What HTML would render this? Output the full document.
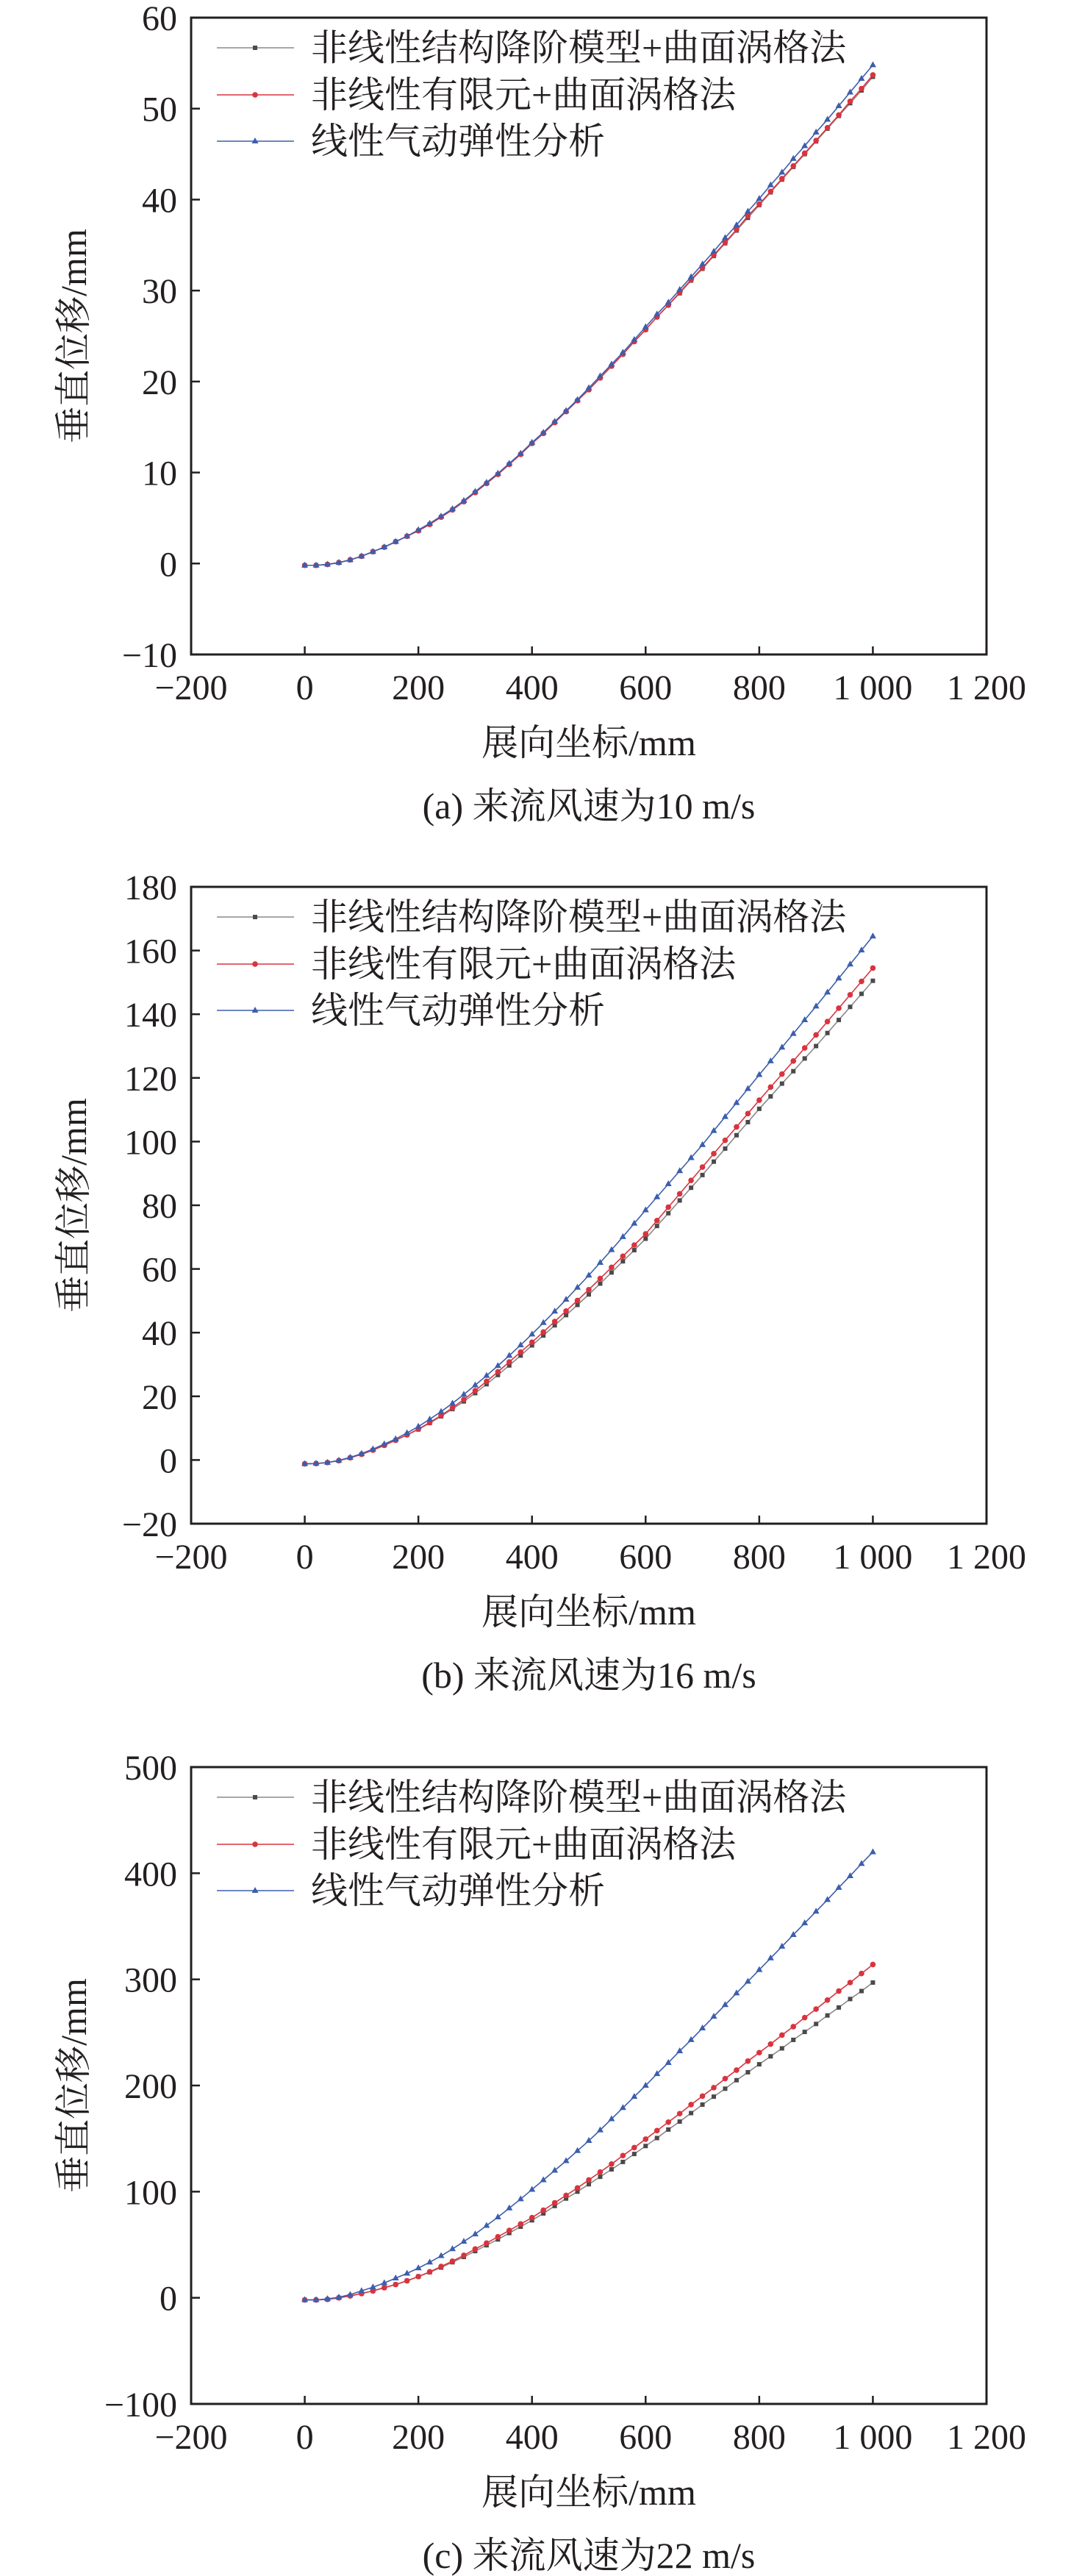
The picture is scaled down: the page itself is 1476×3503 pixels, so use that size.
<!DOCTYPE html>
<html><head><meta charset="utf-8">
<style>
html,body{margin:0;padding:0;background:#fff;}
svg{display:block;}
text{font-family:"Liberation Serif","Noto Serif CJK SC","Noto Sans CJK SC",serif;fill:#231f20;}
</style></head>
<body>
<svg id="fig" width="1476" height="3503" viewBox="0 0 1476 3503" xmlns="http://www.w3.org/2000/svg"></svg>
<script>
const xTicks = [-200,0,200,400,600,800,1000,1200];
const xTickLabels = ["−200","0","200","400","600","800","1 000","1 200"];
const xs = [0,20,40,60,80,100,120,140,160,180,200,220,240,260,280,300,320,340,360,380,400,420,440,460,480,500,520,540,560,580,600,620,640,660,680,700,720,740,760,780,800,820,840,860,880,900,920,940,960,980,1000];
const seriesNames = ["非线性结构降阶模型+曲面涡格法","非线性有限元+曲面涡格法","线性气动弹性分析"];

const aTicks = [-10,0,10,20,30,40,50,60];
const aBlack = [-0.2,-0.2,-0.1,0.1,0.4,0.8,1.3,1.8,2.4,3.0,3.6,4.3,5.1,5.9,6.8,7.8,8.8,9.8,10.9,12.0,13.2,14.3,15.5,16.7,17.9,19.1,20.4,21.7,23.0,24.4,25.7,27.1,28.4,29.7,31.1,32.4,33.8,35.2,36.6,38.0,39.4,40.8,42.2,43.6,45.0,46.4,47.8,49.2,50.6,52.0,53.5];
const aRed = [-0.2,-0.2,-0.1,0.1,0.4,0.8,1.3,1.8,2.4,3.0,3.6,4.3,5.1,5.9,6.8,7.8,8.8,9.8,10.9,12.0,13.2,14.3,15.5,16.7,17.9,19.1,20.4,21.7,23.0,24.4,25.7,27.1,28.4,29.8,31.2,32.5,33.9,35.3,36.7,38.2,39.5,40.9,42.3,43.7,45.1,46.5,47.9,49.3,50.8,52.2,53.7];
const aBlue = [-0.2,-0.2,-0.1,0.1,0.4,0.8,1.3,1.8,2.4,3.0,3.7,4.4,5.2,6.0,6.9,7.9,8.9,9.9,11.0,12.1,13.3,14.4,15.6,16.8,18.0,19.3,20.6,21.9,23.2,24.6,26.0,27.4,28.7,30.1,31.5,32.9,34.3,35.8,37.2,38.7,40.1,41.6,43.0,44.5,45.9,47.4,48.8,50.3,51.8,53.3,54.8];

const bTicks = [-20,0,20,40,60,80,100,120,140,160,180];
const bBlack = [-1.2,-1.1,-0.8,-0.2,0.7,1.8,3.1,4.6,6.2,7.9,9.6,11.6,13.7,16.0,18.4,21.0,23.8,26.7,29.7,32.8,36.0,39.1,42.3,45.5,48.7,52.0,55.4,58.9,62.4,65.9,69.5,73.5,77.5,81.5,85.5,89.5,93.7,97.8,102.0,106.1,110.3,114.2,118.2,122.1,126.1,130.0,134.1,138.2,142.3,146.4,150.5];
const bRed = [-1.2,-1.1,-0.8,-0.2,0.7,1.8,3.1,4.6,6.2,7.9,9.7,11.8,14.0,16.4,19.0,21.8,24.7,27.7,30.8,33.9,37.0,40.2,43.5,46.8,50.1,53.5,57.0,60.5,64.0,67.5,71.0,75.2,79.4,83.6,87.8,92.0,96.2,100.4,104.6,108.8,113.0,117.1,121.2,125.3,129.4,133.5,137.7,141.9,146.1,150.3,154.5];
const bBlue = [-1.2,-1.1,-0.8,-0.1,0.8,2.0,3.4,5.0,6.6,8.5,10.5,12.8,15.2,17.8,20.6,23.5,26.5,29.6,32.8,36.1,39.5,43.1,46.7,50.4,54.2,58.0,62.0,66.0,70.1,74.3,78.5,82.6,86.7,90.8,94.9,99.0,103.4,107.8,112.2,116.6,121.0,125.3,129.6,133.9,138.2,142.5,146.9,151.3,155.7,160.1,164.5];

const cTicks = [-100,0,100,200,300,400,500];
const cBlack = [-2,-2,-1.5,0,1.8,4,6.5,9.5,12.5,16,20,24,28.5,33.5,38.5,44,49.5,55,61,67,73,79.5,86.5,93.5,100,107,114,121,128,135.5,143,150.5,158.5,166,174,182,189.5,197,205,212.5,220,227.5,235,243,250.5,258,266,273.5,281.5,289,297];
const cRed = [-2,-2,-1.5,0,1.8,4,6.5,9.5,12.5,16,20,24.5,29.5,34.5,40,46,51.5,57.5,63.5,69.5,75.5,82.5,89.5,96.5,103.5,111,118.5,126,134,141.5,149.5,157.5,165.5,173.5,182,190,198,206.5,214.5,223,231,239,247.5,255.5,264,272,280.5,289,297,305.5,314];
const cBlue = [-2,-2,-1,0.5,3,6.5,10,14,18.5,23,28,33.5,39.5,46,53,60,68,76,84.5,93,102,111,120,129,138.5,148,158,168.5,179,189.5,200,211,221.5,232.5,243,254,265,276,287,298,309,320,331,342,353,364,375,386.5,397.5,409,420];

const NS="http://www.w3.org/2000/svg";
const svg=document.getElementById('fig');
function mk(tag,attrs,parent){const e=document.createElementNS(NS,tag);for(const k in attrs)e.setAttribute(k,attrs[k]);(parent||svg).appendChild(e);return e;}
const COLORS=[{line:"#8a8a8a",mark:"#4a4a4a"},{line:"#d8343f",mark:"#d8343f"},{line:"#3c5eae",mark:"#3c5eae"}];

function marker(type,x,y,col,g){
  let m;
  if(type===0){m=mk('rect',{x:x-3,y:y-3,width:6,height:6,fill:col},g);}
  else if(type===1){m=mk('circle',{cx:x,cy:y,r:3.8,fill:col},g);}
  else {m=mk('polygon',{points:`${x},${y-5} ${x+4.5},${y+3} ${x-4.5},${y+3}`,fill:col},g);}
  return m;
}

function chart(id,top,yTicks,series,caption){
  const L=260,R=1342,T=top,B=top+866;
  const ymin=yTicks[0],ymax=yTicks[yTicks.length-1];
  const X=v=>L+(v-(-200))/1400*(R-L);
  const Y=v=>B-(v-ymin)/(ymax-ymin)*(B-T);
  const g=mk('g',{});
  
  
  const box=mk('rect',{x:L,y:T,width:R-L,height:B-T,fill:'none',stroke:'#231f20','stroke-width':3},g);
  
  
  xTicks.forEach((v,i)=>{
    const t=mk('line',{x1:X(v),x2:X(v),y1:B,y2:B-11,stroke:'#231f20','stroke-width':2.5},g);
    
    
    const tl=mk('text',{x:X(v),y:B+61,'font-size':48,'text-anchor':'middle'},g);
    tl.textContent=xTickLabels[i];
    
    
  });
  yTicks.forEach(v=>{
    const t=mk('line',{x1:L,x2:L+12,y1:Y(v),y2:Y(v),stroke:'#231f20','stroke-width':2.5},g);
    
    
    const tl=mk('text',{x:241,y:Y(v)+17,'font-size':48,'text-anchor':'end'},g);
    tl.textContent=(v<0?'−':'')+Math.abs(v);
    
    
  });
  const cy=(T+B)/2;
  const yl=mk('text',{x:0,y:0,'font-size':50,'text-anchor':'middle',transform:`translate(117,${cy}) rotate(-90)`},g);
  yl.textContent='垂直位移/mm';
  
  
  const xl=mk('text',{x:801,y:B+137,'font-size':50,'text-anchor':'middle'},g);
  xl.textContent='展向坐标/mm';
  
  
  const cap=mk('text',{x:801,y:B+223,'font-size':50,'text-anchor':'middle'},g);
  cap.textContent=caption;
  
  
  series.forEach((vals,si)=>{
    const sg=mk('g',{},g);
    
    
    const pts=xs.map((x,i)=>X(x)+','+Y(vals[i])).join(' ');
    mk('polyline',{points:pts,fill:'none',stroke:COLORS[si].line,'stroke-width':1.6},sg);
    xs.forEach((x,i)=>{
      const m=marker(si,X(x),Y(vals[i]),COLORS[si].mark,sg);
      
      
    });
  });
  const lg=mk('g',{},g);
  
  
  [41,105,168].forEach((dy,si)=>{
    const ly=T+dy;
    const e=mk('g',{},lg);
    
    
    mk('line',{x1:295,x2:400,y1:ly,y2:ly,stroke:COLORS[si].line,'stroke-width':1.6},e);
    marker(si,347,ly,COLORS[si].mark,e);
    const t=mk('text',{x:423,y:ly+17,'font-size':50},e);
    t.textContent=seriesNames[si];
  });
}
chart('chart-a-10ms',24,aTicks,[aBlack,aRed,aBlue],'(a) 来流风速为10 m/s');
chart('chart-b-16ms',1206,bTicks,[bBlack,bRed,bBlue],'(b) 来流风速为16 m/s');
chart('chart-c-22ms',2403,cTicks,[cBlack,cRed,cBlue],'(c) 来流风速为22 m/s');
</script>
</body></html>
